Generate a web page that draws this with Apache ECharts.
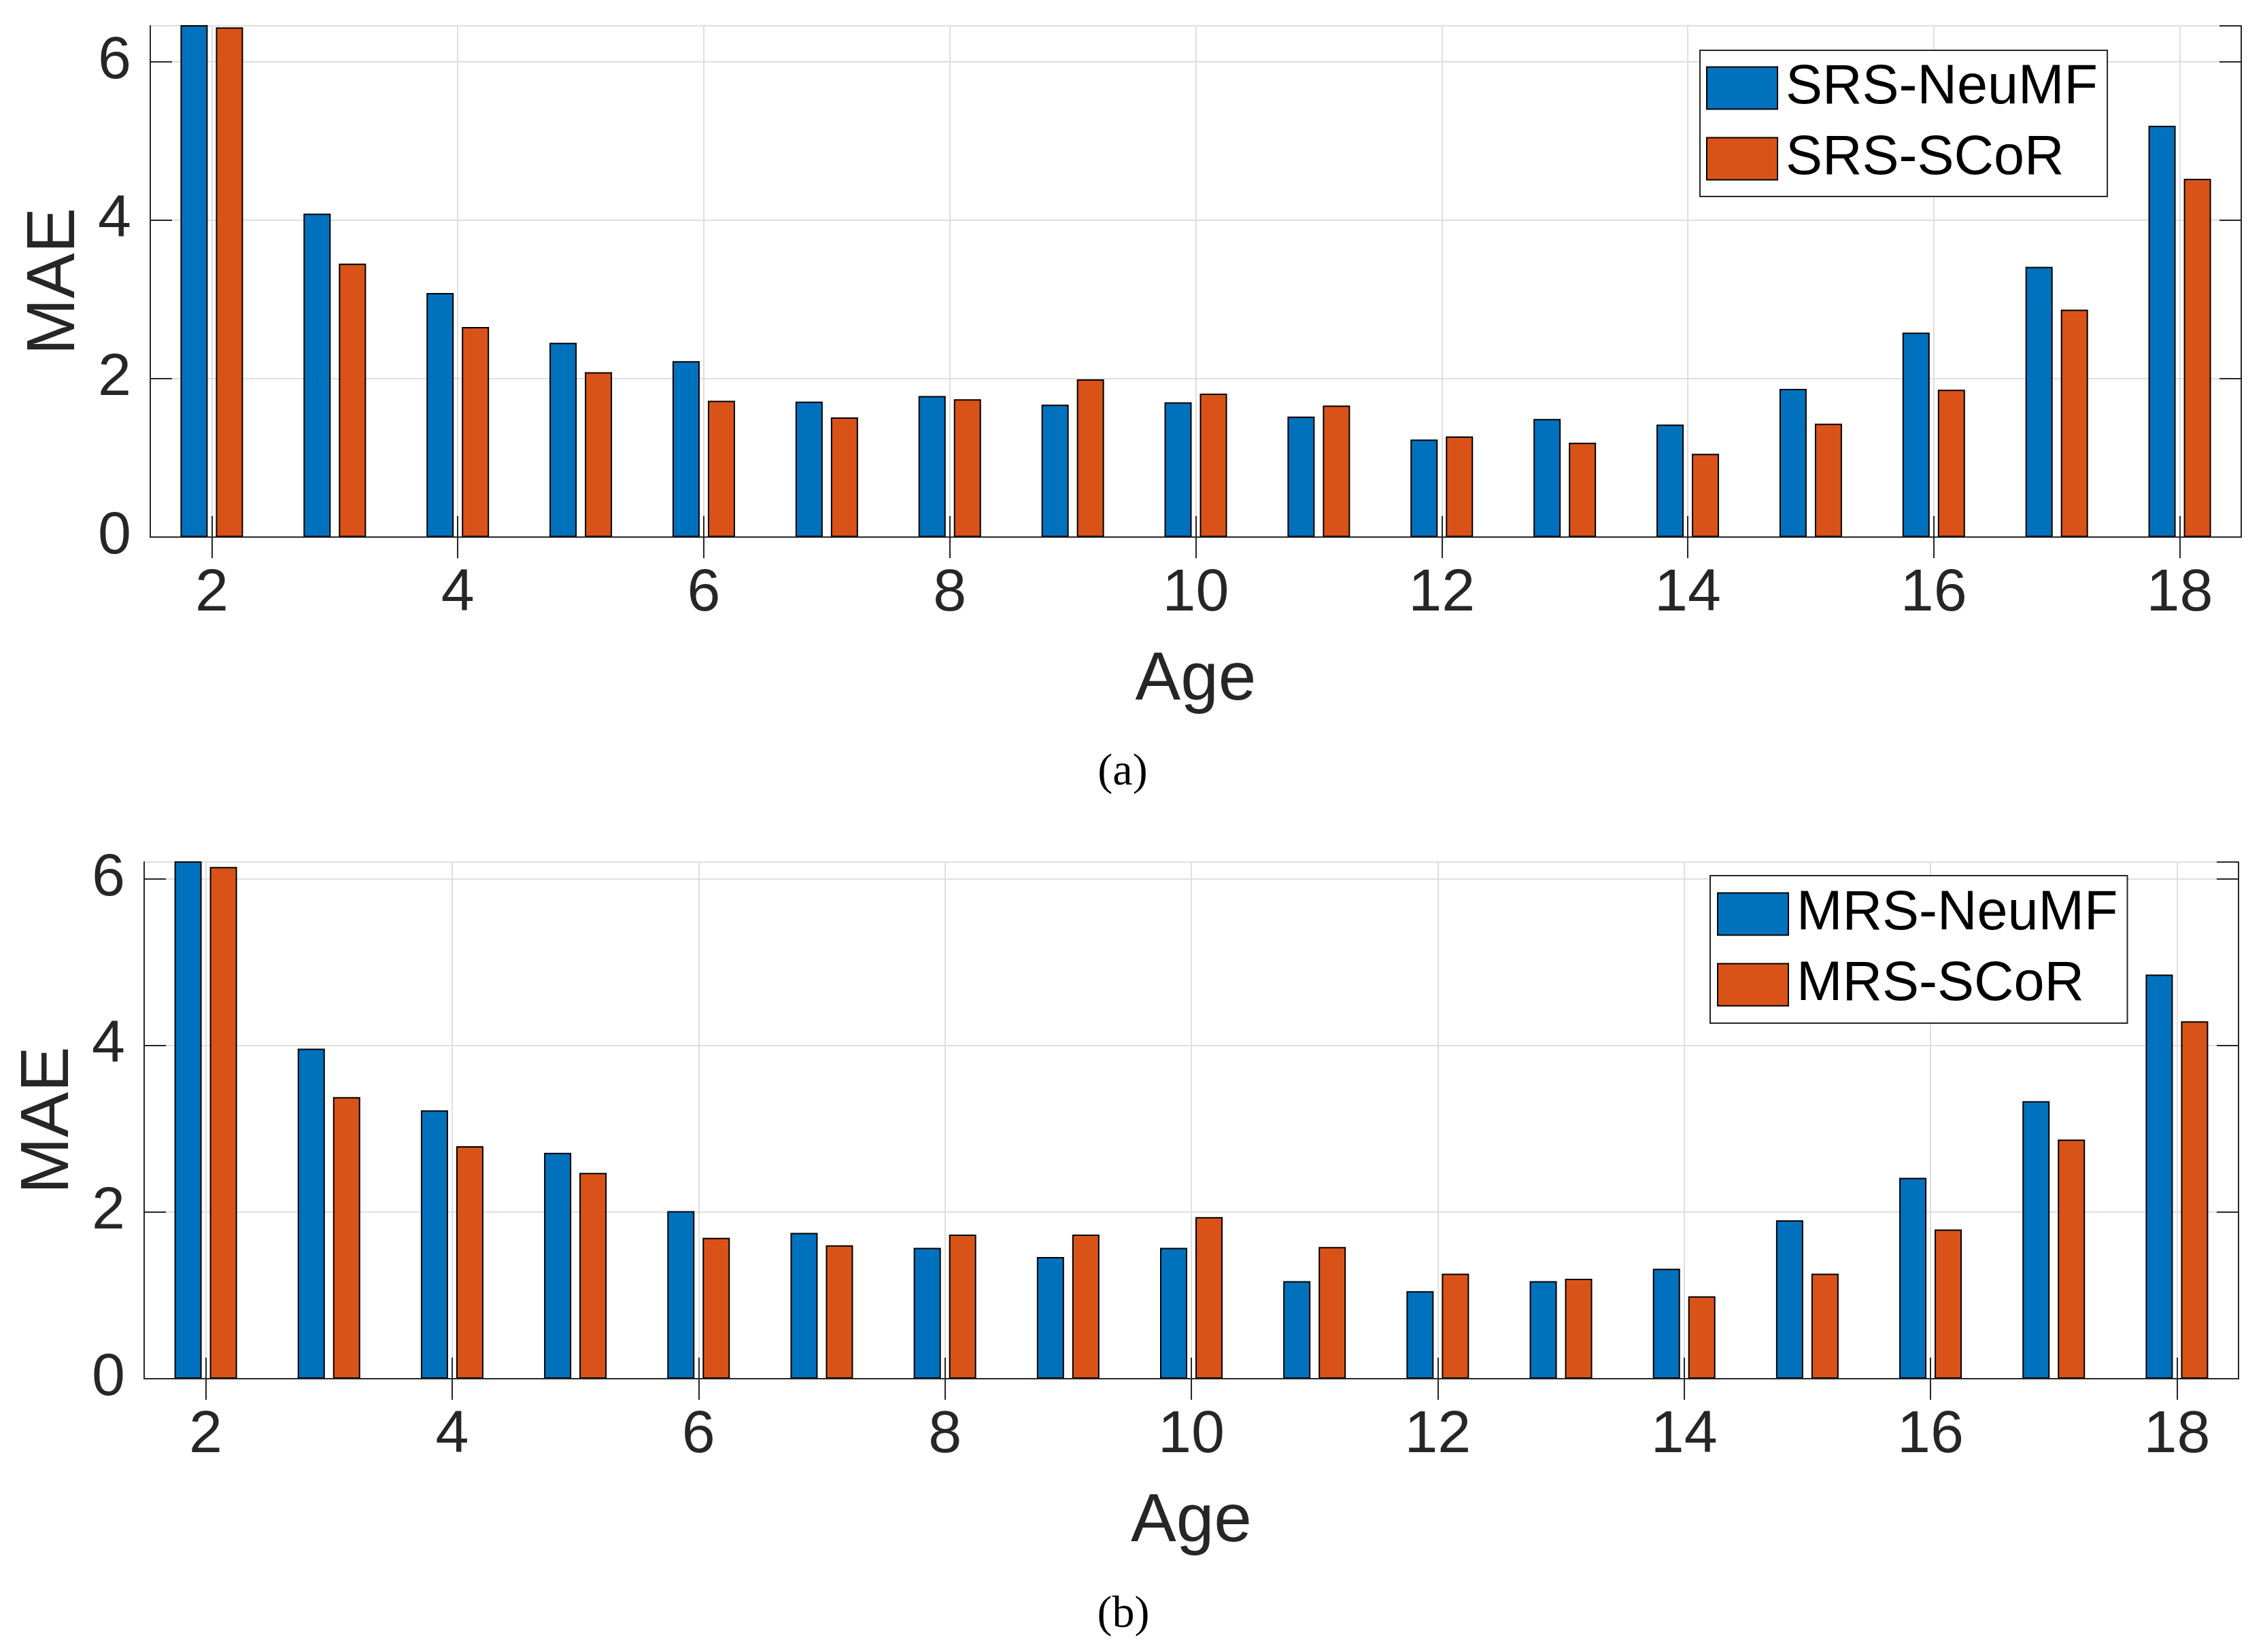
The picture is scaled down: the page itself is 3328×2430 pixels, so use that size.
<!DOCTYPE html>
<html>
<head>
<meta charset="utf-8">
<script src="https://cdn.jsdelivr.net/npm/echarts@6/dist/echarts.min.js"></script>
<style>
  html, body { margin: 0; padding: 0; background: #fff; }
  #chart { width: 3328px; height: 2430px; }
</style>
</head>
<body>
<div id="chart"></div>
<script>
"use strict";

//
// Data
//
const ages = ["2", "3", "4", "5", "6", "7", "8", "9", "10", "11", "12", "13", "14", "15", "16", "17", "18"];

// (a) single-resolution
const srs_neumf = [6.95, 4.08, 3.08, 2.45, 2.22, 1.71, 1.78, 1.67, 1.70, 1.52, 1.23, 1.49, 1.42, 1.87, 2.58, 3.41, 5.19];
const srs_scor = [6.43, 3.45, 2.65, 2.08, 1.72, 1.51, 1.74, 1.99, 1.81, 1.66, 1.27, 1.19, 1.05, 1.43, 1.86, 2.87, 4.52];

// (b) multi-resolution
const mrs_neumf = [6.90, 3.96, 3.22, 2.71, 2.01, 1.75, 1.57, 1.46, 1.57, 1.17, 1.05, 1.17, 1.32, 1.90, 2.41, 3.33, 4.85];
const mrs_scor = [6.14, 3.38, 2.79, 2.47, 1.69, 1.60, 1.73, 1.73, 1.94, 1.58, 1.26, 1.20, 0.99, 1.26, 1.79, 2.87, 4.29];

const y_ticks_step = 2;
const y_max_a = 6.45;
const y_max_b = 6.2;

//
// Styles
//
const FONT = "'Liberation Sans', Arial, Helvetica, sans-serif";
const AX_COLOR = "#262626";
const GRID_COLOR = "#dfdfdf";
const COL_BLUE = "#0072BD";
const COL_ORANGE = "#D95319";

const xAxes = [];
const yAxes = [];
const grids = [];
const legends = [];
const series = [];

function add_panel(g, box, y_max, names, values, legend_pos) {
  grids.push({ left: box.left, right: box.right, top: box.top, height: box.height });

  const line = { show: true, lineStyle: { color: AX_COLOR, width: 2 } };
  const tick = {
    show: true, inside: true, length: 31, alignWithLabel: true, interval: 1,
    lineStyle: { color: AX_COLOR, width: 2 },
  };

  // bottom axis: labels, name, ticks
  xAxes.push({
    gridIndex: g, type: "category", data: ages, position: "bottom", z: 3,
    axisLine: line, axisTick: tick,
    axisLabel: { interval: 1, margin: 40, fontSize: 88, color: AX_COLOR, fontFamily: FONT },
    splitLine: { show: false },
    name: "Age", nameLocation: "middle", nameGap: 161,
    nameTextStyle: { fontSize: 100, color: AX_COLOR, fontFamily: FONT },
  });
  // top axis: box line + ticks
  xAxes.push({
    gridIndex: g, type: "category", data: ages, position: "top", z: 3,
    axisLine: line, axisTick: tick, axisLabel: { show: false }, splitLine: { show: false },
  });
  // vertical grid lines below the bars
  xAxes.push({
    gridIndex: g, type: "category", data: ages, position: "bottom", z: 0,
    axisLine: { show: false }, axisTick: { show: false }, axisLabel: { show: false },
    splitLine: { show: true, interval: 1, alignWithLabel: true, lineStyle: { color: GRID_COLOR, width: 2 } },
  });

  const ytick = { show: true, inside: true, length: 32, lineStyle: { color: AX_COLOR, width: 2 } };
  const yscale = { type: "value", min: 0, max: y_max, interval: y_ticks_step };

  yAxes.push({
    ...yscale, gridIndex: g, position: "left", z: 3,
    axisLine: line, axisTick: ytick,
    axisLabel: {
      margin: 28, fontSize: 88, color: AX_COLOR, fontFamily: FONT, showMaxLabel: false,
      formatter: (v) => (v % y_ticks_step === 0 ? String(v) : ""),
    },
    splitLine: { show: false },
    name: "MAE", nameLocation: "middle", nameGap: 90,
    nameTextStyle: { fontSize: 100, color: AX_COLOR, fontFamily: FONT },
  });
  yAxes.push({
    ...yscale, gridIndex: g, position: "right", z: 3,
    axisLine: line, axisTick: ytick, axisLabel: { show: false }, splitLine: { show: false },
  });
  yAxes.push({
    ...yscale, gridIndex: g, position: "left", z: 0,
    axisLine: { show: false }, axisTick: { show: false }, axisLabel: { show: false },
    splitLine: { show: true, lineStyle: { color: GRID_COLOR, width: 2 } },
  });

  const colors = [COL_BLUE, COL_ORANGE];
  for (let i = 0; i < names.length; i++) {
    series.push({
      type: "bar",
      name: names[i],
      xAxisIndex: g * 3,
      yAxisIndex: g * 3,
      data: values[i],
      barWidth: 40,
      barGap: "30%",
      z: 2,
      itemStyle: { color: colors[i], borderColor: "#000", borderWidth: 2 },
    });
  }

  // legend text box is taller (~79px) than the swatch, so gap/padding are trimmed
  legends.push({
    data: names,
    orient: "vertical",
    left: legend_pos.left,
    top: legend_pos.top,
    padding: legend_pos.padding,
    icon: "rect",
    itemWidth: 104,
    itemHeight: 62,
    itemGap: 23,
    backgroundColor: "#fff",
    borderColor: AX_COLOR,
    borderWidth: 2,
    itemStyle: { borderColor: "#000", borderWidth: 2 },
    textStyle: { fontSize: 81, color: "#000", fontFamily: FONT, padding: [0, 0, 0, 7] },
  });
}

add_panel(0, { left: 221, right: 32, top: 38, height: 752 }, y_max_a,
  ["SRS-NeuMF", "SRS-SCoR"], [srs_neumf, srs_scor],
  { left: 2500, top: 74, padding: [15, 14, 15, 9] });

add_panel(1, { left: 212, right: 36, top: 1268, height: 760 }, y_max_b,
  ["MRS-NeuMF", "MRS-SCoR"], [mrs_neumf, mrs_scor],
  { left: 2515, top: 1288, padding: [16, 14, 16, 10] });

//
// Chart
//
const chart = echarts.init(document.getElementById("chart"), null, { renderer: "canvas" });
chart.setOption({
  animation: false,
  backgroundColor: "#fff",
  grid: grids,
  xAxis: xAxes,
  yAxis: yAxes,
  legend: legends,
  series: series,
  graphic: [
    {
      type: "text", x: 1651, y: 1137,
      style: { text: "(a)", fill: "#000", font: "66px 'Liberation Serif', 'Times New Roman', serif", align: "center", verticalAlign: "middle" },
    },
    {
      type: "text", x: 1652, y: 2376,
      style: { text: "(b)", fill: "#000", font: "66px 'Liberation Serif', 'Times New Roman', serif", align: "center", verticalAlign: "middle" },
    },
  ],
});
</script>
</body>
</html>
